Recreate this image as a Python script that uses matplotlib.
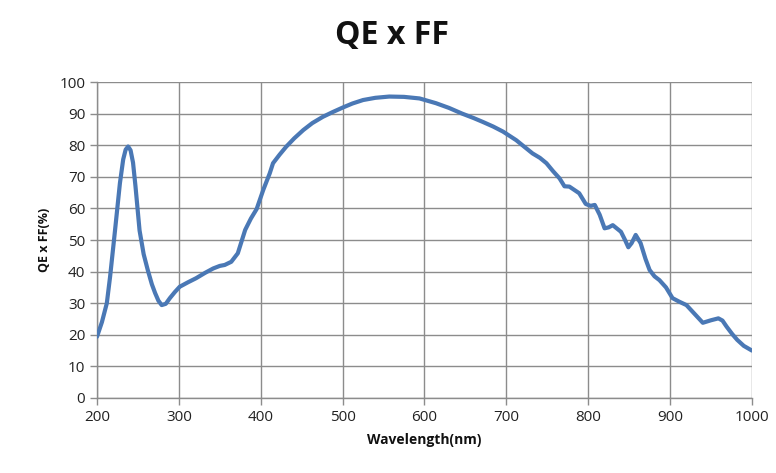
import numpy as np
import matplotlib.pyplot as plt

# values
wavelength = [200, 206, 212, 216, 222, 228, 232, 235, 238, 241, 244, 247, 252, 257, 262,
              267, 271, 275, 279, 284, 289, 295, 301, 311, 321, 332, 342, 350, 356, 364,
              372, 381, 388, 395, 403, 411, 415, 423, 431, 441, 452, 463, 476, 488,
              500, 512, 525, 540, 557, 575, 594, 614, 630, 646, 660, 671, 684, 696,
              712, 722, 732, 741, 749, 757, 765, 771, 777, 789, 797, 803, 808, 814,
              820, 825, 830, 840, 845, 849, 853, 858, 864, 870, 875, 881, 887, 895,
              903, 911, 920, 930, 940, 950, 959, 964, 969, 976, 982, 990, 1000]
qe_ff = [19.4, 24.0, 30.0, 38.4, 53.0, 68.0, 75.5, 78.6, 79.6, 78.4, 74.5, 67.0, 53.0, 45.5, 40.5,
         36.0, 33.2, 30.8, 29.4, 29.8, 31.6, 33.5, 35.2, 36.6, 37.9, 39.6, 41.0, 41.8, 42.1, 43.1,
         45.8, 53.2, 56.8, 59.8, 65.8, 71.1, 74.3, 77.0, 79.5, 82.2, 84.8, 87.0, 89.0, 90.5,
         91.9, 93.2, 94.3, 95.0, 95.4, 95.3, 94.8, 93.3, 91.8, 90.0, 88.6, 87.4, 85.9, 84.3,
         81.6, 79.5, 77.4, 76.0, 74.3, 71.8, 69.5, 67.0, 66.9, 64.8, 61.4, 60.8, 61.1, 58.0,
         53.7, 54.0, 54.7, 52.6, 50.0, 47.7, 49.0, 51.6, 49.0, 44.0, 40.5, 38.5, 37.3, 35.0,
         31.6, 30.5, 29.4, 26.6, 23.8, 24.6, 25.2, 24.5, 22.6, 20.2, 18.4, 16.5, 15.0]

xticks = np.arange(200, 1001, 100)
yticks = np.arange(0, 101, 10)

fig = plt.figure(figsize=(7.76, 4.73), dpi=100)
ax = fig.add_axes([0.125, 0.1586, 0.844, 0.668])

ax.plot(wavelength, qe_ff, color='#4a78b5', linewidth=3.0,
        solid_joinstyle='round', solid_capstyle='round', zorder=3)

ax.set_xlim(200, 1000)
ax.set_ylim(0, 100)
ax.set_xticks(xticks)
ax.set_yticks(yticks)
ax.grid(True, color='#8c8c8c', linewidth=1.0)
ax.set_axisbelow(True)
for s in ['top', 'right']:
    ax.spines[s].set_visible(False)
for s in ['left', 'bottom']:
    ax.spines[s].set_color('#8c8c8c')
    ax.spines[s].set_linewidth(1.0)
ax.tick_params(axis='both', colors='#8c8c8c', length=5, width=1.0,
               labelcolor='#222222', labelsize=11)
for lab in ax.get_xticklabels() + ax.get_yticklabels():
    lab.set_family('Open Sans')

ax.set_xlabel('Wavelength(nm)', fontsize=10, fontweight='bold',
              family='Open Sans', labelpad=6, color='#111111')
ax.set_ylabel('QE x FF(%)', fontsize=9, fontweight='bold',
              family='Open Sans', labelpad=6, color='#111111')
fig.text(0.505, 0.924, 'QE x FF', ha='center', va='center', fontsize=23,
         fontweight='bold', family='Open Sans', color='#111111')

plt.savefig('out.png', dpi=100)
